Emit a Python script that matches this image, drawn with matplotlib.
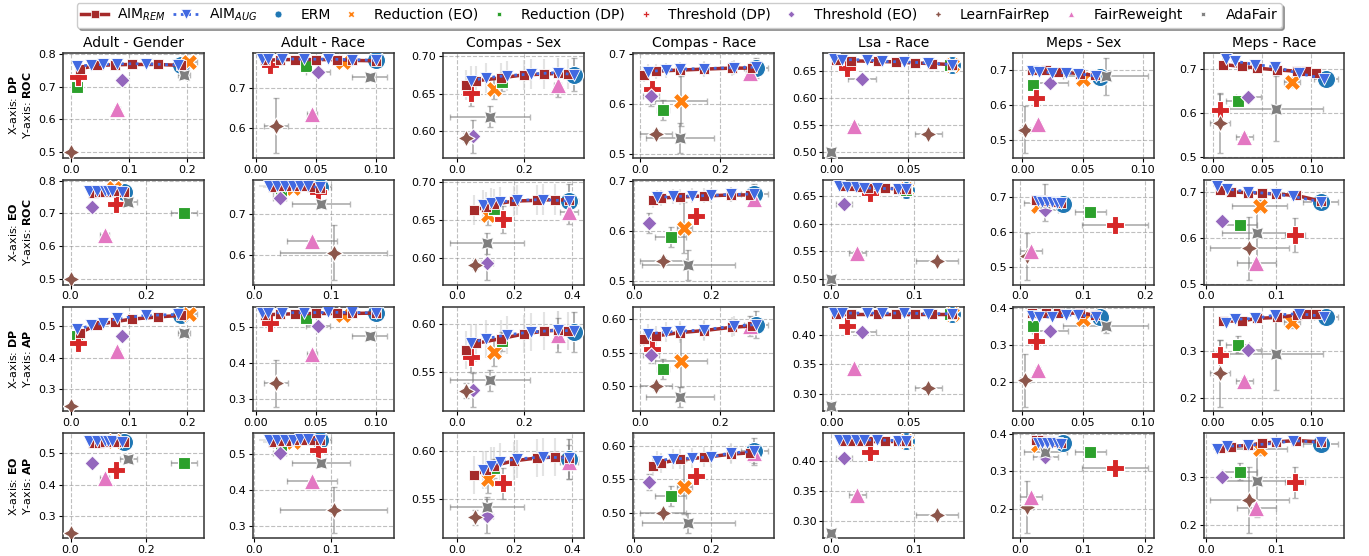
import numpy as np
import matplotlib.pyplot as plt
from matplotlib.lines import Line2D
from matplotlib.ticker import MaxNLocator

# ---------------------------------------------------------------
# panels / methods
datasets = ["Adult - Gender", "Adult - Race", "Compas - Sex", "Compas - Race",
            "Lsa - Race", "Meps - Sex", "Meps - Race"]
methods = ["ERM", "Reduction (EO)", "Reduction (DP)", "Threshold (DP)",
           "Threshold (EO)", "LearnFairRep", "FairReweight", "AdaFair"]

# one row per dataset, one column per method (order of `methods`)
dp = [[0.190, 0.203, 0.010, 0.012, 0.088, 0.000, 0.080, 0.195],
      [0.100, 0.073, 0.042, 0.012, 0.052, 0.017, 0.047, 0.095],
      [0.350, 0.110, 0.135, 0.040, 0.048, 0.025, 0.300, 0.097],
      [0.290, 0.103, 0.058, 0.030, 0.028, 0.040, 0.275, 0.100],
      [0.078, 0.078, 0.077, 0.010, 0.020, 0.063, 0.015, 0.000],
      [0.064, 0.050, 0.009, 0.011, 0.023, 0.002, 0.013, 0.069],
      [0.115, 0.080, 0.025, 0.007, 0.036, 0.007, 0.032, 0.064]]
dp_err = [[0.004, 0.015, 0.002, 0.002, 0.008, 0.003, 0.004, 0.010],
          [0.003, 0.004, 0.003, 0.002, 0.010, 0.010, 0.004, 0.015],
          [0.010, 0.012, 0.015, 0.015, 0.010, 0.008, 0.010, 0.120],
          [0.030, 0.065, 0.015, 0.010, 0.020, 0.040, 0.010, 0.085],
          [0.004, 0.003, 0.003, 0.002, 0.009, 0.009, 0.002, 0.001],
          [0.005, 0.003, 0.002, 0.002, 0.015, 0.004, 0.002, 0.035],
          [0.012, 0.008, 0.012, 0.005, 0.013, 0.010, 0.009, 0.048]]
eo = [[0.140, 0.115, 0.300, 0.120, 0.058, 0.000, 0.090, 0.153],
      [0.085, 0.050, 0.035, 0.083, 0.033, 0.103, 0.075, 0.087],
      [0.390, 0.110, 0.130, 0.160, 0.105, 0.065, 0.390, 0.105],
      [0.310, 0.130, 0.095, 0.160, 0.040, 0.075, 0.310, 0.140],
      [0.090, 0.090, 0.090, 0.047, 0.016, 0.127, 0.032, 0.000],
      [0.068, 0.028, 0.112, 0.152, 0.040, 0.010, 0.017, 0.040],
      [0.165, 0.077, 0.048, 0.128, 0.022, 0.062, 0.072, 0.073]]
eo_err = [[0.012, 0.008, 0.035, 0.005, 0.005, 0.003, 0.012, 0.022],
          [0.015, 0.012, 0.010, 0.004, 0.008, 0.070, 0.032, 0.038],
          [0.030, 0.015, 0.015, 0.020, 0.020, 0.010, 0.030, 0.130],
          [0.035, 0.020, 0.040, 0.020, 0.008, 0.060, 0.010, 0.120],
          [0.010, 0.005, 0.005, 0.005, 0.010, 0.025, 0.010, 0.001],
          [0.010, 0.005, 0.025, 0.053, 0.020, 0.010, 0.018, 0.035],
          [0.025, 0.040, 0.025, 0.015, 0.005, 0.057, 0.028, 0.050]]
roc = [[0.765, 0.777, 0.700, 0.730, 0.720, 0.500, 0.633, 0.735],
       [0.768, 0.765, 0.755, 0.757, 0.740, 0.605, 0.633, 0.727],
       [0.675, 0.656, 0.665, 0.651, 0.593, 0.591, 0.661, 0.619],
       [0.673, 0.607, 0.588, 0.630, 0.617, 0.540, 0.663, 0.533],
       [0.661, 0.662, 0.661, 0.655, 0.635, 0.533, 0.548, 0.500],
       [0.680, 0.675, 0.658, 0.620, 0.663, 0.530, 0.545, 0.683],
       [0.677, 0.670, 0.627, 0.607, 0.636, 0.577, 0.545, 0.610]]
roc_err = [[0.004, 0.012, 0.004, 0.005, 0.004, 0.003, 0.004, 0.004],
           [0.003, 0.004, 0.004, 0.005, 0.004, 0.068, 0.006, 0.004],
           [0.022, 0.013, 0.012, 0.018, 0.022, 0.006, 0.016, 0.014],
           [0.020, 0.050, 0.020, 0.012, 0.020, 0.008, 0.010, 0.030],
           [0.003, 0.003, 0.003, 0.008, 0.003, 0.003, 0.003, 0.001],
           [0.005, 0.005, 0.004, 0.006, 0.005, 0.067, 0.006, 0.053],
           [0.005, 0.012, 0.010, 0.037, 0.006, 0.068, 0.006, 0.073]]
ap = [[0.535, 0.540, 0.468, 0.447, 0.468, 0.247, 0.420, 0.480],
      [0.540, 0.535, 0.525, 0.513, 0.505, 0.345, 0.425, 0.477],
      [0.592, 0.571, 0.582, 0.566, 0.531, 0.530, 0.589, 0.541],
      [0.592, 0.538, 0.525, 0.555, 0.546, 0.500, 0.590, 0.484],
      [0.435, 0.435, 0.435, 0.415, 0.405, 0.310, 0.343, 0.280],
      [0.375, 0.370, 0.350, 0.310, 0.337, 0.205, 0.233, 0.350],
      [0.370, 0.360, 0.312, 0.290, 0.302, 0.252, 0.235, 0.293]]
ap_err = [[0.004, 0.008, 0.006, 0.006, 0.004, 0.003, 0.005, 0.004],
          [0.004, 0.005, 0.004, 0.005, 0.005, 0.065, 0.006, 0.004],
          [0.021, 0.015, 0.010, 0.016, 0.018, 0.008, 0.018, 0.011],
          [0.020, 0.040, 0.015, 0.008, 0.012, 0.006, 0.015, 0.015],
          [0.003, 0.003, 0.003, 0.006, 0.003, 0.003, 0.003, 0.001],
          [0.004, 0.004, 0.006, 0.010, 0.008, 0.070, 0.008, 0.017],
          [0.004, 0.012, 0.018, 0.033, 0.006, 0.070, 0.008, 0.077]]

# AIM_REM curves, one list per dataset (DP panels, then EO panels)
rem_dp = [[0.015, 0.045, 0.075, 0.105, 0.150, 0.190],
          [0.008, 0.020, 0.033, 0.050, 0.068, 0.080, 0.100],
          [0.025, 0.055, 0.130, 0.200, 0.260, 0.300, 0.330],
          [0.010, 0.040, 0.100, 0.160, 0.230, 0.280],
          [0.003, 0.013, 0.030, 0.042, 0.054, 0.065, 0.078],
          [0.008, 0.020, 0.030, 0.048, 0.060],
          [0.010, 0.030, 0.045, 0.065, 0.085, 0.095, 0.105]]
rem_roc_dp = [[0.755, 0.765, 0.767, 0.768, 0.768, 0.765],
              [0.768, 0.770, 0.770, 0.770, 0.770, 0.768, 0.767],
              [0.661, 0.667, 0.671, 0.675, 0.676, 0.677, 0.676],
              [0.659, 0.666, 0.668, 0.670, 0.672, 0.672],
              [0.670, 0.669, 0.668, 0.667, 0.665, 0.664, 0.662],
              [0.700, 0.700, 0.695, 0.690, 0.685],
              [0.710, 0.706, 0.702, 0.698, 0.695, 0.695, 0.692]]
rem_ap_dp = [[0.480, 0.505, 0.515, 0.523, 0.530, 0.535],
             [0.535, 0.537, 0.538, 0.539, 0.539, 0.539, 0.540],
             [0.573, 0.580, 0.585, 0.590, 0.593, 0.594, 0.593],
             [0.570, 0.575, 0.580, 0.583, 0.588, 0.590],
             [0.434, 0.434, 0.434, 0.434, 0.434, 0.434, 0.434],
             [0.385, 0.385, 0.385, 0.385, 0.380],
             [0.362, 0.363, 0.368, 0.370, 0.375, 0.378, 0.378]]
rem_eo = [[0.060, 0.075, 0.090, 0.105, 0.120, 0.140],
          [0.025, 0.035, 0.045, 0.055, 0.065, 0.075, 0.085],
          [0.060, 0.100, 0.130, 0.200, 0.280, 0.340, 0.390],
          [0.050, 0.070, 0.120, 0.180, 0.250, 0.300],
          [0.015, 0.025, 0.035, 0.045, 0.065, 0.080, 0.090],
          [0.025, 0.035, 0.045, 0.055, 0.065],
          [0.020, 0.035, 0.060, 0.080, 0.100, 0.130, 0.165]]
rem_roc_eo = [[0.763, 0.765, 0.766, 0.767, 0.768, 0.765],
              [0.768, 0.770, 0.770, 0.770, 0.770, 0.768, 0.767],
              [0.663, 0.667, 0.671, 0.675, 0.676, 0.677, 0.676],
              [0.662, 0.666, 0.668, 0.670, 0.672, 0.672],
              [0.668, 0.668, 0.667, 0.665, 0.664, 0.663, 0.662],
              [0.690, 0.690, 0.688, 0.685, 0.682],
              [0.705, 0.700, 0.698, 0.697, 0.695, 0.692, 0.680]]
rem_ap_eo = [[0.533, 0.534, 0.535, 0.535, 0.536, 0.535],
             [0.535, 0.537, 0.538, 0.539, 0.539, 0.539, 0.540],
             [0.575, 0.580, 0.585, 0.590, 0.593, 0.594, 0.593],
             [0.570, 0.575, 0.580, 0.583, 0.588, 0.590],
             [0.434, 0.434, 0.434, 0.434, 0.434, 0.434, 0.434],
             [0.383, 0.382, 0.380, 0.378, 0.376],
             [0.362, 0.365, 0.368, 0.372, 0.375, 0.378, 0.375]]

# AIM_AUG curves
aug_dp = [[0.010, 0.035, 0.055, 0.080, 0.130, 0.185],
          [0.005, 0.010, 0.022, 0.040, 0.060, 0.080, 0.100],
          [0.040, 0.085, 0.150, 0.220, 0.300, 0.350],
          [0.020, 0.065, 0.100, 0.160, 0.235, 0.290],
          [0.002, 0.007, 0.023, 0.033, 0.047, 0.063, 0.078],
          [0.008, 0.014, 0.025, 0.036, 0.046, 0.061],
          [0.013, 0.022, 0.043, 0.063, 0.087, 0.113]]
aug_roc_dp = [[0.763, 0.766, 0.768, 0.770, 0.770, 0.766],
              [0.772, 0.772, 0.772, 0.771, 0.771, 0.770, 0.768],
              [0.667, 0.671, 0.674, 0.676, 0.678, 0.675],
              [0.665, 0.668, 0.670, 0.671, 0.673, 0.674],
              [0.672, 0.671, 0.671, 0.668, 0.667, 0.665, 0.662],
              [0.697, 0.695, 0.693, 0.693, 0.690, 0.683],
              [0.722, 0.718, 0.710, 0.705, 0.690, 0.678]]
aug_ap_dp = [[0.490, 0.503, 0.510, 0.525, 0.535, 0.538],
             [0.540, 0.540, 0.541, 0.541, 0.542, 0.542, 0.540],
             [0.580, 0.585, 0.589, 0.592, 0.594, 0.593],
             [0.578, 0.581, 0.582, 0.584, 0.590, 0.592],
             [0.436, 0.436, 0.436, 0.436, 0.436, 0.435, 0.435],
             [0.378, 0.375, 0.375, 0.380, 0.380, 0.375],
             [0.358, 0.366, 0.368, 0.375, 0.378, 0.372]]
aug_eo = [[0.050, 0.070, 0.090, 0.100, 0.110, 0.135],
          [0.020, 0.030, 0.040, 0.050, 0.060, 0.070, 0.085],
          [0.090, 0.120, 0.150, 0.210, 0.300, 0.390],
          [0.060, 0.100, 0.150, 0.200, 0.250, 0.310],
          [0.010, 0.020, 0.030, 0.040, 0.055, 0.080, 0.090],
          [0.028, 0.035, 0.042, 0.050, 0.058, 0.066],
          [0.015, 0.030, 0.060, 0.100, 0.125, 0.165]]
aug_roc_eo = [[0.768, 0.769, 0.770, 0.770, 0.770, 0.766],
              [0.772, 0.772, 0.772, 0.771, 0.771, 0.770, 0.768],
              [0.670, 0.672, 0.674, 0.676, 0.677, 0.675],
              [0.667, 0.669, 0.670, 0.671, 0.673, 0.674],
              [0.668, 0.667, 0.666, 0.665, 0.664, 0.663, 0.662],
              [0.688, 0.687, 0.686, 0.685, 0.684, 0.682],
              [0.712, 0.706, 0.700, 0.695, 0.690, 0.678]]
aug_ap_eo = [[0.538, 0.538, 0.539, 0.539, 0.539, 0.537],
             [0.540, 0.540, 0.541, 0.541, 0.542, 0.542, 0.540],
             [0.580, 0.585, 0.589, 0.592, 0.594, 0.593],
             [0.578, 0.581, 0.582, 0.584, 0.590, 0.592],
             [0.436, 0.436, 0.436, 0.436, 0.436, 0.435, 0.435],
             [0.376, 0.375, 0.375, 0.374, 0.374, 0.373],
             [0.360, 0.366, 0.368, 0.372, 0.378, 0.374]]
aim_roc_err = [0.003, 0.003, 0.020, 0.015, 0.003, 0.004, 0.004]
aim_ap_err = [0.004, 0.003, 0.020, 0.015, 0.003, 0.005, 0.005]
aim_dp_err = [0.003, 0.002, 0.008, 0.008, 0.002, 0.003, 0.004]
aim_eo_err = [0.005, 0.013, 0.010, 0.010, 0.004, 0.005, 0.006]

# ---------------------------------------------------------------
colors = ["tab:blue", "tab:orange", "tab:green", "tab:red",
          "tab:purple", "tab:brown", "tab:pink", "tab:gray"]
markers = ["o", "X", (4, 0, 45), "P", (4, 0, 0), (4, 1, 0), "^", (4, 1, 45)]
sizes = [170, 140, 140, 150, 120, 150, 140, 150]
rem_color = "#a52a2a"
aug_color = "royalblue"

# (x, x err, rem x, aug x, aim x err, y, y err, rem y, aug y, aim y err, x name, y name)
rows = [
    (dp, dp_err, rem_dp, aug_dp, aim_dp_err, roc, roc_err, rem_roc_dp, aug_roc_dp, aim_roc_err, "DP", "ROC"),
    (eo, eo_err, rem_eo, aug_eo, aim_eo_err, roc, roc_err, rem_roc_eo, aug_roc_eo, aim_roc_err, "EO", "ROC"),
    (dp, dp_err, rem_dp, aug_dp, aim_dp_err, ap, ap_err, rem_ap_dp, aug_ap_dp, aim_ap_err, "DP", "AP"),
    (eo, eo_err, rem_eo, aug_eo, aim_eo_err, ap, ap_err, rem_ap_eo, aug_ap_eo, aim_ap_err, "EO", "AP"),
]

fig = plt.figure(figsize=(13.69, 5.56), dpi=100)
axes = fig.subplots(4, 7)
fig.subplots_adjust(left=0.046, right=0.982, top=0.905, bottom=0.032,
                    wspace=0.35, hspace=0.21)

for r, (X, XE, rx, ax_, aimxe, Y, YE, ry, ay, aimye, xname, yname) in enumerate(rows):
    for d in range(len(datasets)):
        ax = axes[r, d]
        ax.set_axisbelow(True)
        ax.grid(True, linestyle="--", color="gray", alpha=0.5, linewidth=0.8)

        # baselines
        for m in range(len(methods)):
            ax.errorbar(X[d][m], Y[d][m], xerr=XE[d][m], yerr=YE[d][m], fmt="none",
                        ecolor="gray", alpha=0.55, capsize=2.5, elinewidth=1.4, zorder=2)
            ax.scatter(X[d][m], Y[d][m], s=sizes[m], marker=markers[m], color=colors[m],
                       edgecolor="white", linewidth=0.8, zorder=3)

        # AIM curves
        curves = [(rx[d], ry[d], rem_color, "s", "-", 2.5, 7.5),
                  (ax_[d], ay[d], aug_color, "v", ":", 2.0, 9)]
        for k, (cx, cy, col, mk, ls, lw, ms) in enumerate(curves):
            xs = np.array(cx)
            ys = np.array(cy)
            order = np.argsort(xs)
            xs, ys = xs[order], ys[order]
            ax.errorbar(xs, ys, xerr=aimxe[d], yerr=aimye[d], fmt="none",
                        ecolor="lightgray", alpha=0.6, elinewidth=1.5, zorder=1)
            ax.plot(xs, ys, color=col, marker=mk, linestyle=ls, linewidth=lw,
                    markersize=ms, markeredgecolor="white", markeredgewidth=0.6,
                    zorder=4 + k)

        ax.xaxis.set_major_locator(MaxNLocator(nbins=3, steps=[1, 2, 2.5, 5, 10]))
        ax.tick_params(labelsize=8, length=3, pad=2)
        for sp in ax.spines.values():
            sp.set_linewidth(1.1)
            sp.set_color("#333333")
        if r == 0:
            ax.set_title(datasets[d], fontsize=10, pad=4)
        if d == 0:
            ax.set_ylabel("X-axis: $\\bf{%s}$\nY-axis: $\\bf{%s}$" % (xname, yname),
                          fontsize=8, labelpad=4)

# legend
handles = [Line2D([0], [0], color=rem_color, marker="s", linestyle="-", linewidth=2.5,
                  markersize=6, markeredgecolor="white", markeredgewidth=0.5),
           Line2D([0], [0], color=aug_color, marker="v", linestyle=":", linewidth=2.0,
                  markersize=7, markeredgecolor="white", markeredgewidth=0.5)]
for m in range(len(methods)):
    handles.append(Line2D([0], [0], color=colors[m], marker=markers[m], linestyle="none",
                          markersize=5, markeredgecolor="white", markeredgewidth=0.5))
labels = ["AIM$_{REM}$", "AIM$_{AUG}$"] + methods
fig.legend(handles, labels, loc="upper center", bbox_to_anchor=(0.496, 1.0), ncol=10,
           fontsize=10, frameon=True, shadow=True, fancybox=True, borderaxespad=0.2,
           columnspacing=0.5, handletextpad=0.6, borderpad=0.3)

fig.savefig("out.png", dpi=100)
